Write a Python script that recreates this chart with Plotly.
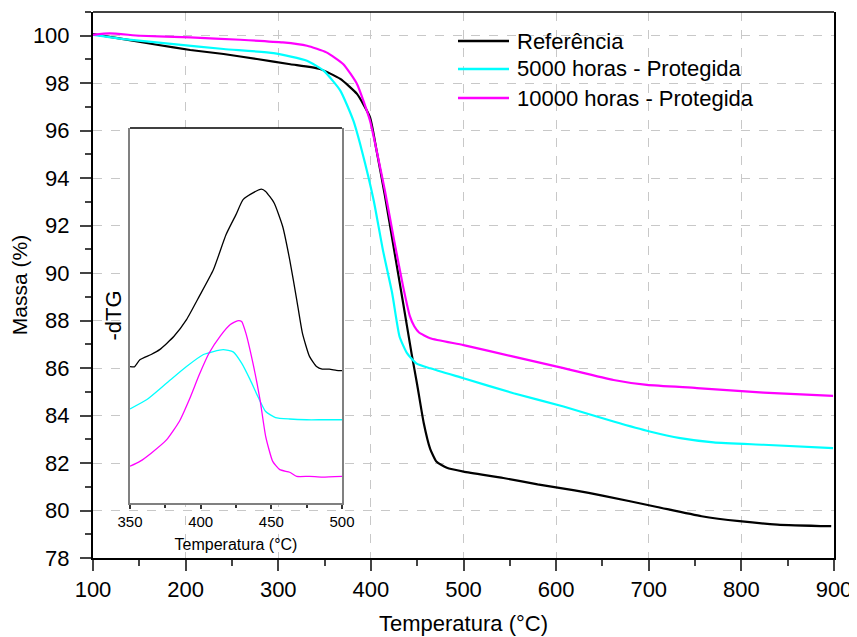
import plotly.graph_objects as go

# ---------------- main TG curves ----------------
temp_ref = [100, 133, 169, 205, 241, 277, 313, 345, 367, 385, 399, 406, 415, 425, 435, 444, 450,
            457, 464, 471, 482, 500, 543, 580, 620, 650, 709, 757, 798, 839, 897]
mass_ref = [100.07, 99.86, 99.62, 99.40, 99.23, 99.02, 98.80, 98.60, 98.18, 97.55, 96.57, 95.20,
            93.30, 91.00, 88.70, 86.60, 85.30, 83.70, 82.60, 82.05, 81.80, 81.64, 81.37, 81.10,
            80.85, 80.63, 80.15, 79.76, 79.55, 79.41, 79.34]

temp_5000 = [100, 133, 187, 241, 295, 331, 349, 367, 381, 390, 403, 413, 423, 431, 439, 449, 464,
             500, 554, 608, 662, 701, 734, 770, 824, 899]
mass_5000 = [100.04, 99.86, 99.65, 99.44, 99.27, 98.95, 98.53, 97.69, 96.43, 95.20, 93.07, 90.97,
             89.15, 87.32, 86.63, 86.20, 85.99, 85.57, 84.94, 84.38, 83.75, 83.33, 83.05, 82.87,
             82.77, 82.63]

temp_10000 = [100, 118, 151, 205, 259, 305, 331, 352, 370, 385, 399, 406, 415, 425, 435, 442, 447,
              452, 464, 500, 554, 608, 662, 698, 752, 824, 899]
mass_10000 = [100.04, 100.10, 100.00, 99.93, 99.83, 99.72, 99.58, 99.30, 98.81, 97.97, 96.43,
              95.20, 93.50, 91.40, 89.40, 88.20, 87.75, 87.50, 87.26, 86.97, 86.48, 86.00, 85.50,
              85.29, 85.16, 84.97, 84.83]

# ---------------- inset -dTG curves (arbitrary units) ----------------
dtg_temp_ref = [350, 353, 357, 365, 371, 381, 390, 399, 409, 418, 425, 430, 437, 443, 446, 452,
                458, 463, 468, 472, 477, 482, 486, 491, 496, 500]
dtg_ref = [36.4, 36.3, 38.2, 39.6, 40.9, 44.4, 48.9, 55.1, 62.2, 71.6, 76.9, 80.9, 82.7, 83.7,
           83.1, 80.0, 73.8, 64.9, 54.2, 45.3, 39.1, 36.4, 35.7, 35.7, 35.4, 35.3]

dtg_temp_5000 = [350, 362, 376, 390, 402, 409, 416, 423, 429, 435, 441, 446, 453, 463, 475, 486, 500]
dtg_5000 = [25.1, 27.6, 32.0, 36.4, 39.6, 40.4, 40.9, 40.3, 37.3, 32.9, 28.0, 24.4, 22.8, 22.4,
            22.2, 22.2, 22.2]

dtg_temp_10000 = [350, 357, 365, 376, 385, 392, 399, 406, 414, 421, 426, 429, 432, 437, 442, 446,
                  451, 456, 463, 468, 477, 486, 500]
dtg_10000 = [9.8, 11.1, 13.3, 16.9, 21.8, 27.6, 34.2, 40.0, 44.6, 47.6, 48.6, 48.4, 45.3, 37.3,
             27.6, 17.8, 11.1, 8.9, 8.2, 7.1, 7.1, 6.9, 7.1]

series_names = ["Referência", "5000 horas - Protegida", "10000 horas - Protegida"]
series_colors = ["#000000", "#00FFFF", "#FF00FF"]

x_ticks = list(range(100, 901, 100))
y_ticks = list(range(78, 101, 2))
inset_x_ticks = [350, 400, 450, 500]

FONT = "Liberation Sans, Arial, sans-serif"

fig = go.Figure()
main_data = [(temp_ref, mass_ref), (temp_5000, mass_5000), (temp_10000, mass_10000)]
for (tx, ty), nm, col in zip(main_data, series_names, series_colors):
    fig.add_trace(go.Scatter(x=tx, y=ty, mode="lines", name=nm, showlegend=False,
                             line=dict(color=col, width=2.2, shape="spline", smoothing=0.5)))

inset_data = [(dtg_temp_ref, dtg_ref), (dtg_temp_5000, dtg_5000), (dtg_temp_10000, dtg_10000)]
for (tx, ty), nm, col in zip(inset_data, series_names, series_colors):
    fig.add_trace(go.Scatter(x=tx, y=ty, mode="lines", name=nm, showlegend=False,
                             xaxis="x2", yaxis="y2",
                             line=dict(color=col, width=1.3, shape="spline", smoothing=0.5)))

# legend drawn as line samples + text (paper coordinates of the 741x546 plot area)
PW, PH = 741.0, 546.0
leg_x0, leg_x1, leg_text = (458 - 93) / PW, (509 - 93) / PW, (515 - 93) / PW
leg_rows = [41, 69, 98]
shapes = []
annotations = []
for nm, col, yr in zip(series_names, series_colors, leg_rows):
    yp = (558 - yr) / PH
    shapes.append(dict(type="line", xref="paper", yref="paper", x0=leg_x0, x1=leg_x1,
                       y0=yp, y1=yp, line=dict(color=col, width=2.5)))
    annotations.append(dict(xref="paper", yref="paper", x=leg_text, y=yp, text=nm,
                            showarrow=False, xanchor="left", yanchor="middle",
                            font=dict(size=22, family=FONT, color="black")))

shapes.append(dict(type="line", xref="paper", yref="paper", x0=0, x1=1, y0=1, y1=1,
                   line=dict(color="black", width=1.5)))
shapes.append(dict(type="line", xref="paper", yref="paper", x0=0.0499, x1=0.336,
                   y0=0.7875, y1=0.7875, line=dict(color="black", width=1.5)))

grid = dict(showgrid=True, gridcolor="#c8c8c8", griddash="dash", gridwidth=1)

# the page body has an 8px margin, so the figure is made 8px smaller and shifted
fig.update_layout(
    width=849, height=629,
    margin=dict(l=85, r=23, t=4, b=79, autoexpand=False),
    paper_bgcolor="white", plot_bgcolor="white",
    font=dict(family=FONT, color="black"),
    showlegend=False,
    xaxis=dict(range=[100, 900], tickvals=x_ticks, ticks="outside", ticklen=11, tickwidth=2,
               showline=True, linecolor="black", linewidth=2, zeroline=False, automargin=False,
               tickfont=dict(size=22), title=dict(text="Temperatura (°C)", font=dict(size=22),
                                                   standoff=14),
               minor=dict(dtick=50, ticks="outside", ticklen=6, tickwidth=2, showgrid=False),
               **grid),
    yaxis=dict(range=[78, 101], tickvals=y_ticks, ticks="outside", ticklen=11, tickwidth=2,
               showline=True, linecolor="black", linewidth=2, mirror=True, zeroline=False,
               automargin=False, ticklabelstandoff=6,
               tickfont=dict(size=22), title=dict(text="Massa (%)", font=dict(size=21),
                                                   standoff=0),
               minor=dict(dtick=1, ticks="outside", ticklen=6, tickwidth=2, showgrid=False),
               **grid),
    xaxis2=dict(domain=[0.0499, 0.336], anchor="y2", range=[350, 500], tickvals=inset_x_ticks,
                ticks="outside", ticklen=4, tickwidth=1.5, tickcolor="#333333", automargin=False,
                showline=True, linecolor="#808080", linewidth=2, zeroline=False, showgrid=False,
                tickfont=dict(size=15), title=dict(text="Temperatura (°C)", font=dict(size=16),
                                                    standoff=10),
                minor=dict(dtick=25, ticks="outside", ticklen=3, tickwidth=1.5)),
    yaxis2=dict(domain=[0.1007, 0.7875], anchor="x2", range=[0, 100], showticklabels=False,
                ticks="", showline=True, linecolor="#808080", linewidth=2, mirror=True,
                zeroline=False, showgrid=False, automargin=False,
                title=dict(text="-dTG", font=dict(size=22), standoff=0)),
    shapes=shapes,
    annotations=annotations,
)

fig.write_html("out.html")
